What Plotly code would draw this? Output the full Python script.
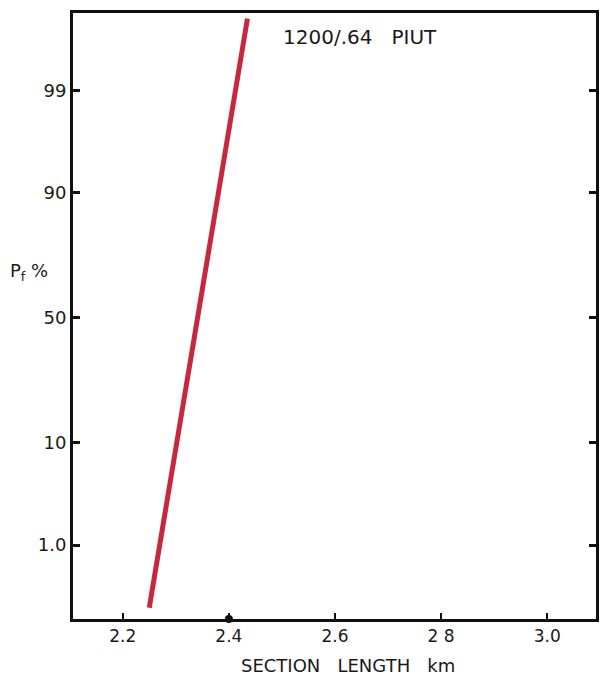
import plotly.graph_objects as go
from statistics import NormalDist

# Data
section_length = [2.25, 2.435]          # km
pf_percent = [0.15, 99.89]              # failure probability, %

y_tick_pct = [1, 10, 50, 90, 99]
y_tick_text = ["1.0", "10", "50", "90", "99"]
x_tick_vals = [2.2, 2.4, 2.6, 2.8, 3.0]
x_tick_text = ["2.2", "2.4", "2.6", "2 8", "3.0"]

nd = NormalDist()
def z(p):
    return nd.inv_cdf(p / 100.0)

Y_MIN, Y_MAX = -3.083, 3.119

fig = go.Figure()
fig.add_trace(go.Scatter(
    x=section_length, y=[z(p) for p in pf_percent], mode="lines",
    line=dict(color="#c8283c", width=5), showlegend=False, hoverinfo="skip"))
# small blot on the axis at 2.4 seen in the reference
fig.add_trace(go.Scatter(
    x=[2.4], y=[Y_MIN], mode="markers", cliponaxis=False,
    marker=dict(color="#111", size=8), showlegend=False, hoverinfo="skip"))

font = dict(family="DejaVu Sans", size=18, color="#1a1a1a")
NB = "\u00a0"

fig.update_layout(
    width=601, height=675,
    margin=dict(l=73, r=2, t=13, b=56),
    paper_bgcolor="white", plot_bgcolor="white",
    font=font,
    xaxis=dict(range=[2.1063, 3.0918], tickvals=x_tick_vals, ticktext=x_tick_text,
               ticks="inside", ticklen=6, tickwidth=2, tickcolor="#111",
               tickfont=dict(family="DejaVu Sans", size=17, color="#1a1a1a"),
               showline=True, linewidth=3, linecolor="#111", mirror=True,
               showgrid=False, zeroline=False),
    yaxis=dict(range=[Y_MIN, Y_MAX], tickvals=[z(p) for p in y_tick_pct], ticktext=y_tick_text,
               ticks="inside", ticklen=7, tickwidth=3, tickcolor="#111",
               tickfont=dict(family="DejaVu Sans", size=18, color="#1a1a1a"),
               showline=True, linewidth=3, linecolor="#111", mirror="ticks",
               showgrid=False, zeroline=False),
    annotations=[
        dict(text="1200/.64" + NB * 3 + "PIUT", xref="paper", yref="paper",
             x=(282 - 73) / 526, y=(619 - 37) / 606,
             xanchor="left", yanchor="middle", showarrow=False,
             font=dict(family="DejaVu Sans", size=20, color="#1a1a1a")),
        dict(text="P<sub>f</sub>" + NB + "%", xref="paper", yref="paper",
             x=(8 - 73) / 526, y=(619 - 272) / 606,
             xanchor="left", yanchor="middle", showarrow=False,
             font=dict(family="DejaVu Sans", size=18, color="#1a1a1a")),
        dict(text="SECTION" + NB * 3 + "LENGTH" + NB * 3 + "km", xref="paper", yref="paper",
             x=(240 - 73) / 526, y=-(665 - 619) / 606,
             xanchor="left", yanchor="middle", showarrow=False,
             font=dict(family="DejaVu Sans", size=18, color="#1a1a1a")),
    ],
)

fig.write_html("out.html", config={"displayModeBar": False},
               post_script="document.body.style.margin='0';")
